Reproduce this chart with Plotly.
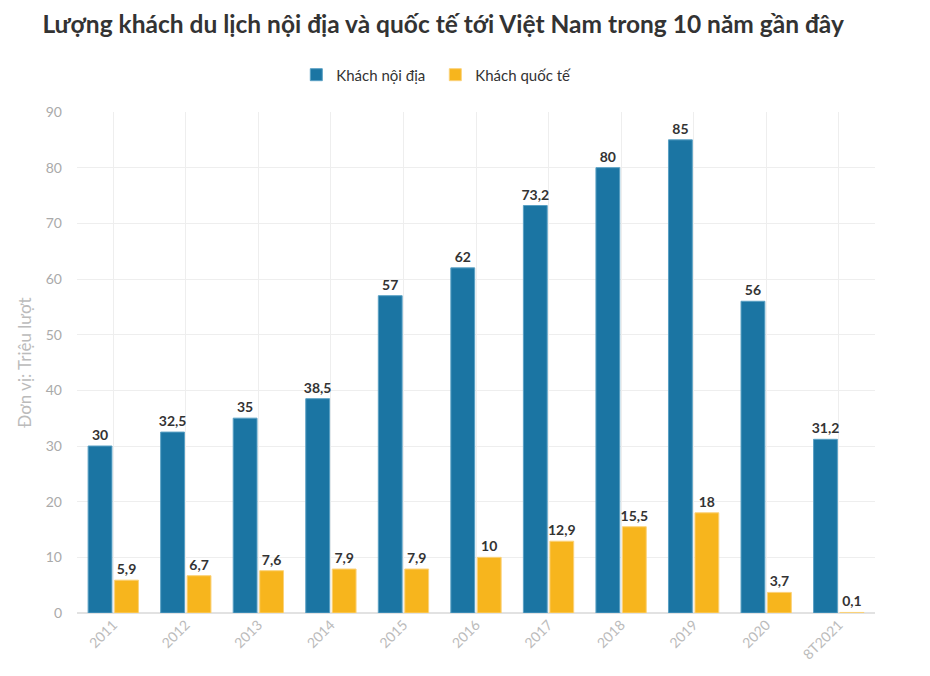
import plotly.graph_objects as go

categories = ["2011", "2012", "2013", "2014", "2015", "2016", "2017", "2018", "2019", "2020", "8T2021"]
domestic = [30, 32.5, 35, 38.5, 57, 62, 73.2, 80, 85, 56, 31.2]
international = [5.9, 6.7, 7.6, 7.9, 7.9, 10, 12.9, 15.5, 18, 3.7, 0.1]
domestic_labels = ["30", "32,5", "35", "38,5", "57", "62", "73,2", "80", "85", "56", "31,2"]
international_labels = ["5,9", "6,7", "7,6", "7,9", "7,9", "10", "12,9", "15,5", "18", "3,7", "0,1"]
y_ticks = [0, 10, 20, 30, 40, 50, 60, 70, 80, 90]

FONT = "Lato"
BLUE = "#1b75a3"
YELLOW = "#f7b51d"

fig = go.Figure()
fig.add_trace(go.Bar(
    x=categories, y=domestic, name="Khách nội địa",
    marker=dict(color=BLUE, line=dict(color="#5aa0c4", width=1)),
    text=domestic_labels, textposition="outside", cliponaxis=False,
    constraintext="none",
    textfont=dict(family=FONT, size=14, color="#333333", weight="bold"),
))
fig.add_trace(go.Bar(
    x=categories, y=international, name="Khách quốc tế",
    marker=dict(color=YELLOW, line=dict(color="#fbd27a", width=1)),
    text=international_labels, textposition="outside", cliponaxis=False,
    constraintext="none",
    textfont=dict(family=FONT, size=14, color="#333333", weight="bold"),
))

fig.update_layout(
    width=930, height=676,
    paper_bgcolor="white", plot_bgcolor="white",
    font=dict(family=FONT, color="#333333"),
    title=dict(
        text="<b>Lượng khách du lịch nội địa và quốc tế tới Việt Nam trong 10 năm gần đây</b>",
        x=0.037, xanchor="left", y=0.975, yanchor="middle",
        font=dict(family=FONT, size=24.5, color="#333333"),
    ),
    legend=dict(
        orientation="h", x=0.449, xanchor="center", y=1.074, yanchor="middle",
        font=dict(family=FONT, size=15, color="#333333"),
        itemwidth=30, traceorder="normal",
        entrywidth=94, entrywidthmode="pixels",
    ),
    barmode="group", bargap=0.27, bargroupgap=0.1,
    margin=dict(l=69, r=63, t=104, b=71, autoexpand=False),
)
fig.update_xaxes(
    type="category", tickangle=-45, automargin=False,
    tickfont=dict(family=FONT, size=14, color="#bbbbbb"),
    showgrid=True, gridcolor="#eeeeee", gridwidth=1,
    ticks="", showline=False,
)
fig.update_yaxes(
    range=[0, 90], tickvals=y_ticks, automargin=False,
    tickfont=dict(family=FONT, size=14, color="#aaaaaa"),
    showgrid=True, gridcolor="#eeeeee", gridwidth=1,
    zeroline=True, zerolinecolor="#e2e2e2", zerolinewidth=2,
    title=dict(text="Đơn vị: Triệu lượt", font=dict(family=FONT, size=17, color="#bbbbbb"), standoff=9),
    ticklabelstandoff=14,
)

fig.write_html("out.html")
